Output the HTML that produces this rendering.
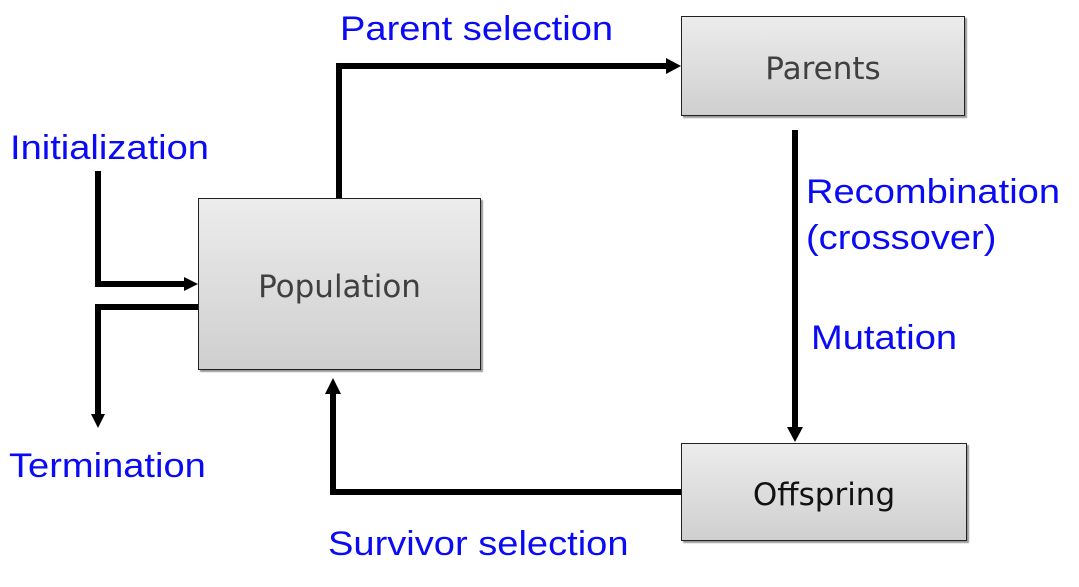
<!DOCTYPE html>
<html><head><style>
body{margin:0;background:#fff;width:1079px;height:587px;overflow:hidden;position:relative;font-family:"Liberation Sans",sans-serif}
.box{position:absolute;border:1.5px solid #222;background:linear-gradient(#ececec,#cfcfcf);box-shadow:2px 2px 1px #999;display:flex;align-items:center;justify-content:center;font-family:"DejaVu Sans","Liberation Sans",sans-serif;font-size:31px;color:#404040;box-sizing:border-box;padding-top:6px}
.t{position:absolute;color:#0a0af5;font-size:34px;white-space:nowrap;line-height:1;transform:scaleX(1.12);transform-origin:0 0}
</style></head><body>
<svg width="1079" height="587" style="position:absolute;left:0;top:0">
<g stroke="#000" stroke-width="6" fill="none">
<polyline points="98,171 98,284 186,284"/>
<polyline points="198,307 98,307 98,414"/>
<polyline points="339,198 339,66 668,66"/>
<line x1="795" y1="130" x2="795" y2="428"/>
<polyline points="681,492 333,492 333,392"/>
</g>
<g fill="#000">
<polygon points="198,284 184,277 184,291"/>
<polygon points="98,428 91,414 105,414"/>
<polygon points="681,66 666,58 666,74"/>
<polygon points="795,442 787,427 803,427"/>
<polygon points="333,378 325,394 341,394"/>
</g>
</svg>
<div class="box" style="left:681px;top:16px;width:284px;height:100px">Parents</div>
<div class="box" style="left:198px;top:198px;width:283px;height:172px">Population</div>
<div class="box" style="left:681px;top:443px;width:286px;height:98px;color:#111">Offspring</div>
<div class="t" style="left:340px;top:12px">Parent selection</div>
<div class="t" style="left:10px;top:131px">Initialization</div>
<div class="t" style="left:9px;top:449px">Termination</div>
<div class="t" style="left:806px;top:175px">Recombination</div>
<div class="t" style="left:806px;top:221px">(crossover)</div>
<div class="t" style="left:811px;top:321px">Mutation</div>
<div class="t" style="left:328px;top:527px">Survivor selection</div>
</body></html>
